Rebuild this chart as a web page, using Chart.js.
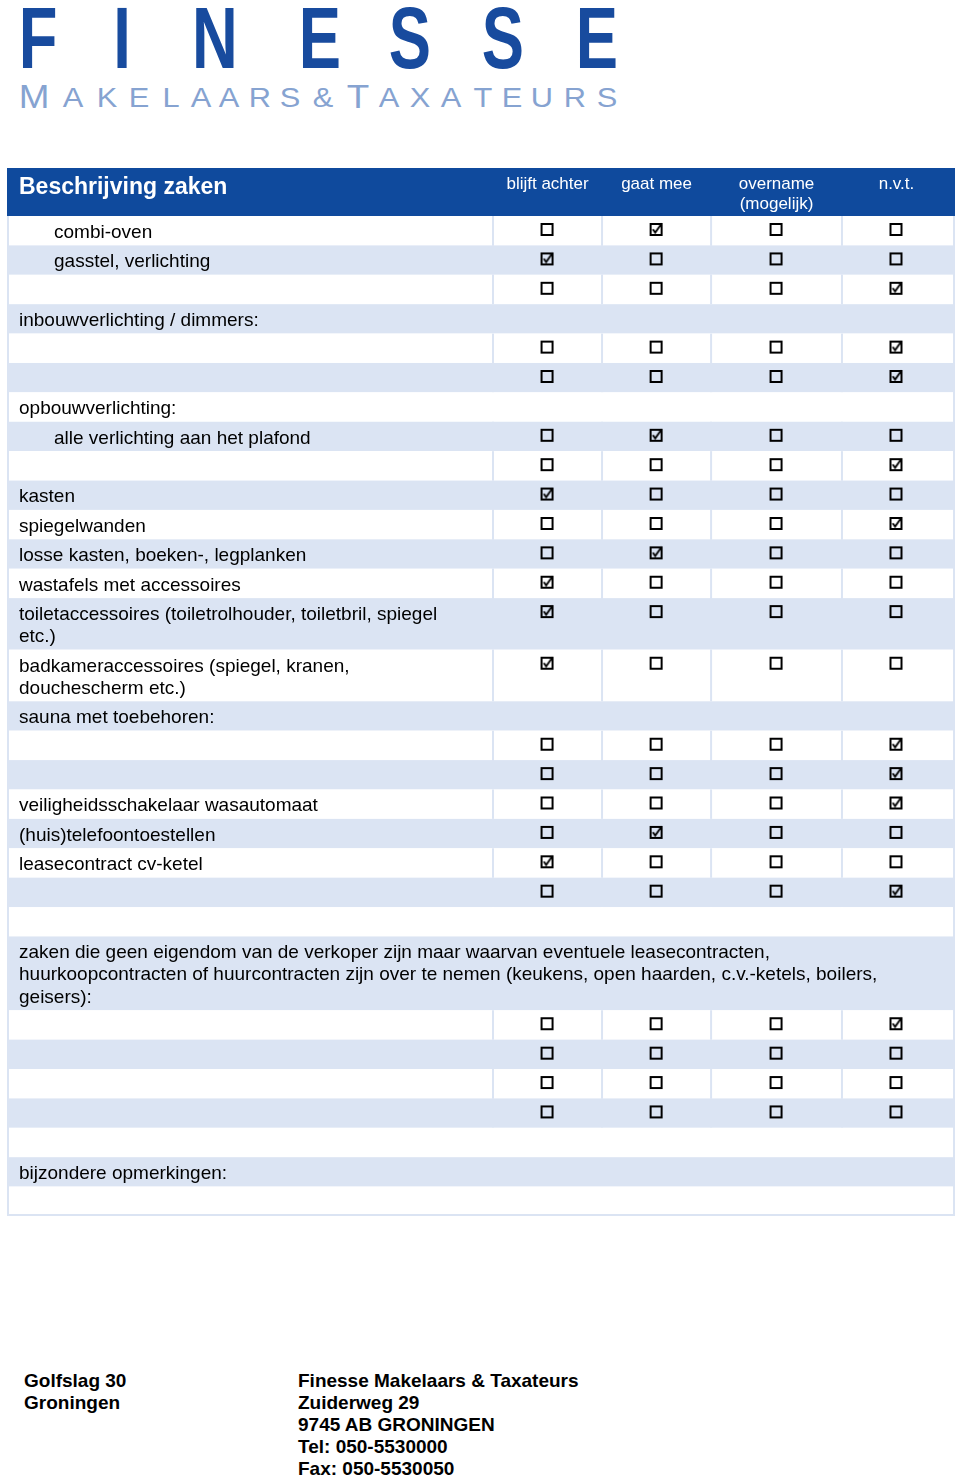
<!DOCTYPE html>
<html>
<head>
<meta charset="utf-8">
<script src="https://cdn.jsdelivr.net/npm/chart.js@4.4.0/dist/chart.umd.min.js"></script>
<style>
html, body { margin: 0; padding: 0; background: #fff; }
body { width: 960px; height: 1480px; position: relative; overflow: hidden; font-family: "Liberation Sans", Arial, sans-serif; }
.big { position: absolute; font-weight: bold; color: #184b9e; font-size: 88px; line-height: 88px; top: -6px; transform: translateX(-50%) scaleX(0.72); }
.sub { position: absolute; color: #86a3d1; transform: translateX(-50%) scaleX(1.1); }
#wrap { position: absolute; left: 0; top: 160px; width: 960px; height: 1066px; }
.foot { position: absolute; top: 1370px; font-weight: bold; font-size: 19px; line-height: 22px; color: #000; }
</style>
</head>
<body>
<div id="logo"></div>
<div id="wrap"><canvas id="form-chart"></canvas></div>
<div class="foot" style="left:24px">Golfslag 30<br>Groningen</div>
<div class="foot" style="left:298px">Finesse Makelaars &amp; Taxateurs<br>Zuiderweg 29<br>9745 AB GRONINGEN<br>Tel: 050-5530000<br>Fax: 050-5530050</div>
<script>
// table data
var COL_HEADERS = ['blijft achter', 'gaat mee', ['overname', '(mogelijk)'], 'n.v.t.'];
var ROW_LABELS = [
    'combi-oven',
    'gasstel, verlichting',
    '',
    'inbouwverlichting / dimmers:',
    '',
    '',
    'opbouwverlichting:',
    'alle verlichting aan het plafond',
    '',
    'kasten',
    'spiegelwanden',
    'losse kasten, boeken-, legplanken',
    'wastafels met accessoires',
    ['toiletaccessoires (toiletrolhouder, toiletbril, spiegel', 'etc.)'],
    ['badkameraccessoires (spiegel, kranen,', 'douchescherm etc.)'],
    'sauna met toebehoren:',
    '',
    '',
    'veiligheidsschakelaar wasautomaat',
    '(huis)telefoontoestellen',
    'leasecontract cv-ketel',
    '',
    '',
    ['zaken die geen eigendom van de verkoper zijn maar waarvan eventuele leasecontracten,',
     'huurkoopcontracten of huurcontracten zijn over te nemen (keukens, open haarden, c.v.-ketels, boilers,',
     'geisers):'],
    '',
    '',
    '',
    '',
    '',
    'bijzondere opmerkingen:',
    ''
];
var ROW_INDENTED = [0, 1, 7];
// 1 = row has the four checkboxes
var ROW_HAS_BOXES = [1, 1, 1, 0, 1, 1, 0, 1, 1, 1, 1, 1, 1, 1, 1, 0, 1, 1, 1, 1, 1, 1, 0, 0, 1, 1, 1, 1, 0, 0, 0];
// column that is ticked, -1 = none
var ROW_TICKED = [1, 0, 3, -1, 3, 3, -1, 1, 3, 0, 3, 1, 0, 0, 0, -1, 3, 3, 3, 1, 0, 3, -1, -1, 3, -1, -1, -1, -1, -1, -1];

// layout
var COL_WIDTHS = [110, 110, 132, 110];
var ROW_PAD = 7.2;
var LINE_H = 22.2;
var DARK = '#0f4a9d';
var LIGHT = '#dbe4f3';
var FONT = '"Liberation Sans", Arial, sans-serif';

// logo
var BIG_LETTERS = ['F', 'I', 'N', 'E', 'S', 'S', 'E'];
var BIG_X = [38, 122, 215, 320, 410, 503, 597];
var SUB_LETTERS = ['M', 'A', 'K', 'E', 'L', 'A', 'A', 'R', 'S', '&', 'T', 'A', 'X', 'A', 'T', 'E', 'U', 'R', 'S'];
var SUB_X = [34, 73, 107, 139, 171, 201, 229, 260, 290, 323, 358, 389, 420, 451, 483, 512, 542, 575, 607];
var logo = document.getElementById('logo');
var html = '';
for (var i = 0; i < BIG_LETTERS.length; i++) {
    html += '<span class="big" style="left:' + BIG_X[i] + 'px">' + BIG_LETTERS[i] + '</span>';
}
for (i = 0; i < SUB_LETTERS.length; i++) {
    var large = (i == 0 || i == 10);
    var fs = large ? 33.5 : 28;
    html += '<span class="sub" style="left:' + SUB_X[i] + 'px;font-size:' + fs + 'px;line-height:' + fs +
        'px;top:' + (108 - 0.8465 * fs).toFixed(1) + 'px">' + (SUB_LETTERS[i] == '&' ? '&amp;' : SUB_LETTERS[i]) + '</span>';
}
logo.innerHTML = html;

// row geometry from number of text lines
var rowTops = [];
var rowHeights = [];
var total = 0;
for (i = 0; i < ROW_LABELS.length; i++) {
    var lines = Array.isArray(ROW_LABELS[i]) ? ROW_LABELS[i].length : 1;
    rowTops.push(total);
    rowHeights.push(ROW_PAD + LINE_H * lines);
    total += ROW_PAD + LINE_H * lines;
}

var colEdges = [0];
var colCenters = [];
for (i = 0; i < COL_WIDTHS.length; i++) {
    colCenters.push(colEdges[i] + COL_WIDTHS[i] / 2);
    colEdges.push(colEdges[i] + COL_WIDTHS[i]);
}

// checkbox images
function makeBox(checked) {
    var c = document.createElement('canvas');
    c.width = 16;
    c.height = 16;
    var g = c.getContext('2d');
    g.strokeStyle = '#000';
    g.lineWidth = 2;
    g.strokeRect(2, 2, 11, 11);
    if (checked) {
        g.lineWidth = 1.8;
        g.beginPath();
        g.moveTo(4.2, 7.2);
        g.lineTo(6.6, 10.6);
        g.lineTo(13.2, 1.2);
        g.stroke();
    }
    return c;
}

var checkedPoints = [];
var emptyPoints = [];
for (i = 0; i < ROW_LABELS.length; i++) {
    if (!ROW_HAS_BOXES[i]) continue;
    for (var c = 0; c < colCenters.length; c++) {
        var p = { x: colCenters[c], y: rowTops[i] + 14 };
        if (ROW_TICKED[i] == c) checkedPoints.push(p); else emptyPoints.push(p);
    }
}

// row backgrounds, borders and descriptions
var tablePlugin = {
    id: 'formTable',
    beforeDraw: function(chart) {
        var ctx = chart.ctx;
        var area = chart.chartArea;
        var xs = chart.scales.x;
        var ys = chart.scales.y;
        var left = 7, right = 955;
        ctx.save();
        ctx.fillStyle = DARK;
        ctx.fillRect(left, area.top - 48, right - left, 48);
        for (var r = 0; r < ROW_LABELS.length; r++) {
            var top = ys.getPixelForValue(rowTops[r]);
            var bot = ys.getPixelForValue(rowTops[r] + rowHeights[r]);
            ctx.fillStyle = (r % 2) ? LIGHT : '#fff';
            ctx.fillRect(left, top, right - left, bot - top);
            if (ROW_HAS_BOXES[r]) {
                ctx.fillStyle = LIGHT;
                for (var e = 0; e < colEdges.length - 1; e++) {
                    ctx.fillRect(xs.getPixelForValue(colEdges[e]) - 1, top, 2, bot - top);
                }
            }
        }
        ctx.fillStyle = LIGHT;
        ctx.fillRect(left, area.top, 2, area.bottom - area.top);
        ctx.fillRect(right - 2, area.top, 2, area.bottom - area.top);
        ctx.fillRect(left, area.bottom - 2, right - left, 2);
        ctx.fillStyle = '#fff';
        ctx.font = 'bold 23px ' + FONT;
        ctx.textBaseline = 'alphabetic';
        ctx.fillText('Beschrijving zaken', 19, area.top - 48 + 25.5);
        ctx.restore();
    },
    afterDraw: function(chart) {
        var ctx = chart.ctx;
        var ys = chart.scales.y;
        ctx.save();
        ctx.fillStyle = '#000';
        ctx.font = '19px ' + FONT;
        ctx.textBaseline = 'alphabetic';
        for (var r = 0; r < ROW_LABELS.length; r++) {
            var lines = Array.isArray(ROW_LABELS[r]) ? ROW_LABELS[r] : [ROW_LABELS[r]];
            var x = ROW_INDENTED.indexOf(r) >= 0 ? 54 : 19;
            for (var l = 0; l < lines.length; l++) {
                ctx.fillText(lines[l], x, ys.getPixelForValue(rowTops[r] + 21.8 + LINE_H * l), 920);
            }
        }
        ctx.restore();
    }
};

var formChart = new Chart(document.getElementById('form-chart'), {
    type: 'scatter',
    data: {
        datasets: [
            { data: emptyPoints, pointStyle: makeBox(false), pointRadius: 8 },
            { data: checkedPoints, pointStyle: makeBox(true), pointRadius: 8 }
        ]
    },
    options: {
        responsive: true,
        maintainAspectRatio: false,
        devicePixelRatio: 1,
        animation: false,
        events: [],
        layout: { padding: { left: 493, right: 0, top: 8, bottom: 10 } },
        plugins: { legend: { display: false }, tooltip: { enabled: false } },
        scales: {
            x: {
                type: 'linear',
                position: 'top',
                min: 0,
                max: colEdges[colEdges.length - 1],
                grid: { display: false, drawTicks: false },
                border: { display: false },
                afterBuildTicks: function(scale) {
                    scale.ticks = colCenters.map(function(v) { return { value: v }; });
                },
                afterFit: function(scale) {
                    // header band is fixed, and labels never reach the edges
                    scale.height = 48;
                    scale.paddingLeft = 0;
                    scale.paddingRight = 0;
                },
                ticks: {
                    autoSkip: false,
                    maxRotation: 0,
                    minRotation: 0,
                    crossAlign: 'far',
                    padding: 2,
                    color: '#fff',
                    font: { family: FONT, size: 17, lineHeight: 1.18 },
                    callback: function(value, index) { return COL_HEADERS[index]; }
                }
            },
            y: {
                type: 'linear',
                display: false,
                reverse: true,
                min: 0,
                max: total
            }
        }
    },
    plugins: [tablePlugin]
});
</script>
</body>
</html>
